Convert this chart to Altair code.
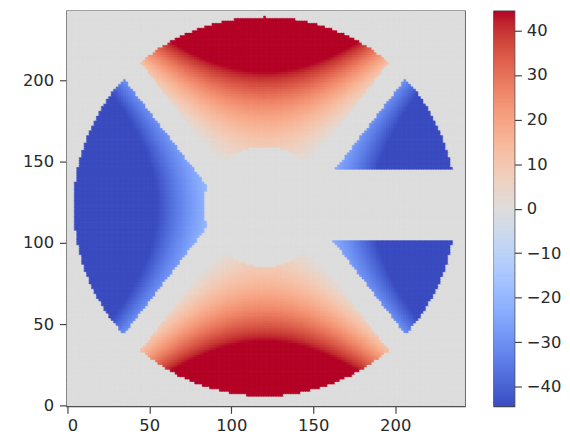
import numpy as np
import pandas as pd
import altair as alt

# ---- axis / colorbar text ----
X_TICKS = [0, 50, 100, 150, 200]
Y_TICKS = [0, 50, 100, 150, 200]
CBAR_TICKS = [-40, -30, -20, -10, 0, 10, 20, 30, 40]
CBAR_LIMIT = 44.4          # colorbar runs from about -44.4 to +44.4
IMAGE_SIZE = 243           # image is about 243 x 243 pixels

# ---- geometry of the field (data units) ----
CENTER = [120.5, 122.5]    # centre of the circular aperture
APERTURE_RADIUS = 116.5    # outer circle
CORE_RADIUS = 37.0         # grey disc in the middle
# red (top/bottom) lobes: value = a*dy^2 - b*dx^2
RED_COEFFS = [0.0065, 0.0067]
# blue (left/right) lobes: value = -(c1*|dx| + c2*dx^2) + c3*dy^2
BLUE_COEFFS = [0.50, 0.00270, 0.00537]
STRIP_SLOPE = 1.3          # grey diagonal strips: slope*|dx|+lo < |dy| < slope*|dx|+hi
STRIP_EDGES = [-33.0, -10.0]
SLOT_Y = [101.0, 145.0]    # grey horizontal slot on the right-hand side
CELL = 1.5

# matplotlib "coolwarm" colours, 33 evenly spaced samples
COOLWARM = [
    "#3b4cc0", "#445acc", "#4d68d7", "#5775e1", "#6282ea", "#6c8ef1", "#779af7",
    "#82a5fb", "#8db0fe", "#98b9ff", "#a3c2ff", "#aec9fd", "#b8d0f9", "#c2d5f4",
    "#ccd9ee", "#d5dbe6", "#dddddd", "#e5d8d1", "#ecd3c5", "#f1ccb8", "#f5c4ac",
    "#f7bb9f", "#f7b193", "#f7a686", "#f49a7b", "#f18d6f", "#ec7f63", "#e57059",
    "#de604d", "#d55042", "#cb3e38", "#c0282f", "#b40426",
]
COLOR_DOMAIN = list(np.round(np.linspace(-CBAR_LIMIT, CBAR_LIMIT, len(COOLWARM)), 4))

# ---- build the image table ----
centers = np.arange(0.5, IMAGE_SIZE, CELL)
X, Y = np.meshgrid(centers, centers)
dx = X - CENTER[0]
dy = Y - CENTER[1]
adx, ady = np.abs(dx), np.abs(dy)
r = np.hypot(dx, dy)

red_val = RED_COEFFS[0] * dy ** 2 - RED_COEFFS[1] * dx ** 2
blue_val = -(BLUE_COEFFS[0] * adx + BLUE_COEFFS[1] * dx ** 2) + BLUE_COEFFS[2] * dy ** 2
in_blue = ady <= STRIP_SLOPE * adx + STRIP_EDGES[0]
in_red = ady >= STRIP_SLOPE * adx + STRIP_EDGES[1]
val = np.where(in_blue, blue_val, np.where(in_red, red_val, 0.0))

masked = (
    (r > APERTURE_RADIUS)
    | (r < CORE_RADIUS)
    | ((dx > 0) & (Y > SLOT_Y[0]) & (Y < SLOT_Y[1]))
)
val = np.where(masked, 0.0, np.clip(val, -CBAR_LIMIT, CBAR_LIMIT))

half = CELL / 2
df = pd.DataFrame({
    "x0": (X - half).ravel(),
    "x1": (X + half + 0.3).ravel(),
    "y0": (Y - half).ravel(),
    "y1": (Y + half + 0.3).ravel(),
    "v": np.round(val, 1).ravel(),
})

color_scale = alt.Scale(domain=COLOR_DOMAIN, range=COOLWARM, interpolate="rgb", clamp=True)
pix_domain = [-0.5, IMAGE_SIZE - 0.5]

axis_common = dict(
    labelFont="DejaVu Sans", labelFontSize=16.5, labelColor="#2a2a2a",
    tickColor="#444444", tickWidth=1.2, tickSize=7, domain=False, grid=False,
    title=None,
)

heat = alt.Chart(df).mark_rect(clip=True, strokeWidth=0.6, opacity=1).encode(
    x=alt.X("x0:Q", scale=alt.Scale(domain=pix_domain, nice=False, zero=False),
            axis=alt.Axis(values=X_TICKS, labelPadding=4, **axis_common)),
    x2="x1:Q",
    y=alt.Y("y0:Q", scale=alt.Scale(domain=pix_domain, nice=False, zero=False),
            axis=alt.Axis(values=Y_TICKS, labelPadding=6, minExtent=58, maxExtent=58, **axis_common)),
    y2="y1:Q",
    color=alt.Color("v:Q", scale=color_scale, legend=None),
    stroke=alt.Stroke("v:Q", scale=color_scale, legend=None),
).properties(width=402, height=399)

# ---- colorbar ----
levels = np.linspace(-CBAR_LIMIT, CBAR_LIMIT, 201)
cb = pd.DataFrame({
    "lo": levels[:-1],
    "hi": levels[1:] + 0.2,
    "mid": (levels[:-1] + levels[1:]) / 2,
})
cbar = alt.Chart(cb).mark_rect(clip=True, strokeWidth=0.6, opacity=1).encode(
    x=alt.value(0),
    x2=alt.value(21),
    y=alt.Y("lo:Q", scale=alt.Scale(domain=[-CBAR_LIMIT, CBAR_LIMIT], nice=False, zero=False),
            axis=alt.Axis(orient="right", values=CBAR_TICKS, labelPadding=5, **axis_common)),
    y2="hi:Q",
    color=alt.Color("mid:Q", scale=color_scale, legend=None),
    stroke=alt.Stroke("mid:Q", scale=color_scale, legend=None),
).properties(width=21, height=399)

chart = alt.hconcat(heat, cbar, spacing=27).resolve_scale(
    x="independent", y="independent", color="shared", stroke="shared"
).properties(
    padding={"left": 0, "top": 0, "right": 0, "bottom": 0},
    background="white",
).configure_view(
    stroke="#444444", strokeWidth=1.2
)

chart.save("out.html", embed_options={"renderer": "svg", "actions": False})
